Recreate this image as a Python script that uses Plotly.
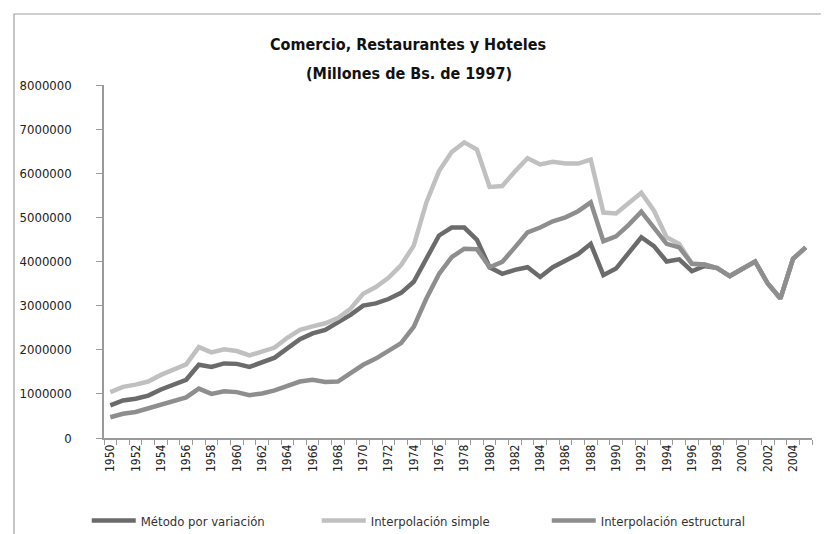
import plotly.graph_objects as go

years = list(range(1950, 2006))

metodo_variacion = [
    740000, 850000, 890000, 960000, 1100000, 1210000, 1320000, 1660000, 1610000, 1690000,
    1680000, 1610000, 1720000, 1820000, 2030000, 2240000, 2370000, 2450000, 2620000, 2790000,
    3000000, 3050000, 3150000, 3290000, 3540000, 4060000, 4590000, 4770000, 4770000, 4490000,
    3870000, 3720000, 3810000, 3870000, 3650000, 3870000, 4020000, 4170000, 4400000, 3690000,
    3840000, 4190000, 4550000, 4350000, 4000000, 4050000, 3780000, 3900000, 3850000, 3670000,
    3840000, 4000000, 3500000, 3160000, 4060000, 4320000,
]

interp_simple = [
    1040000, 1160000, 1210000, 1280000, 1430000, 1550000, 1670000, 2060000, 1940000, 2010000,
    1970000, 1870000, 1960000, 2050000, 2270000, 2450000, 2530000, 2600000, 2720000, 2930000,
    3270000, 3420000, 3630000, 3920000, 4360000, 5340000, 6050000, 6480000, 6700000, 6540000,
    5690000, 5710000, 6040000, 6340000, 6200000, 6260000, 6220000, 6220000, 6310000, 5110000,
    5090000, 5320000, 5560000, 5150000, 4550000, 4400000, 3950000, 3930000, 3850000, 3670000,
    3840000, 4000000, 3500000, 3160000, 4060000, 4320000,
]

interp_estructural = [
    470000, 550000, 590000, 670000, 770000, 830000, 920000, 1120000, 1000000, 1060000,
    1040000, 970000, 1010000, 1080000, 1170000, 1280000, 1320000, 1270000, 1280000, 1470000,
    1660000, 1800000, 1980000, 2150000, 2520000, 3160000, 3720000, 4100000, 4290000, 4280000,
    3870000, 3990000, 4320000, 4660000, 4770000, 4910000, 5000000, 5140000, 5340000, 4460000,
    4570000, 4830000, 5130000, 4770000, 4400000, 4320000, 3950000, 3930000, 3850000, 3670000,
    3840000, 4000000, 3500000, 3160000, 4060000, 4320000,
]

series_names = ["Método por variación", "Interpolación simple", "Interpolación estructural"]
series_colors = ["#6b6b6b", "#c0c0c0", "#8e8e8e"]

y_ticks = [0, 1000000, 2000000, 3000000, 4000000, 5000000, 6000000, 7000000, 8000000]
x_ticks = list(range(1950, 2005, 2))

title_line1 = "Comercio, Restaurantes y Hoteles"
title_line2 = "(Millones de Bs. de 1997)"

FONT = "DejaVu Sans Condensed, Liberation Sans Narrow, Arial Narrow, Roboto, sans-serif"

fig = go.Figure()
for name, vals, col in zip(series_names, [metodo_variacion, interp_simple, interp_estructural], series_colors):
    fig.add_trace(go.Scatter(
        x=years, y=vals, mode="lines", name=name,
        line=dict(color=col, width=4.5),
    ))

W, H = 829, 534
L, R, T, B = 96, 25, 77, 104
PW, PH = W - L - R, H - T - B

fig.update_layout(
    width=W, height=H,
    paper_bgcolor="white", plot_bgcolor="white",
    margin=dict(l=L, r=R, t=T, b=B, autoexpand=False),
    font=dict(family=FONT, size=12, color="#222"),
    title=dict(
        text="<b>" + title_line1 + "</b>",
        x=400 / W, xanchor="center", xref="container",
        y=1 - 36 / H, yanchor="middle", yref="container",
        font=dict(family=FONT, size=16, color="#111"),
    ),
    showlegend=True,
    legend=dict(
        orientation="h", xref="container", yref="container",
        x=0.095, xanchor="left", y=0.04, yanchor="middle",
        font=dict(family=FONT, size=13, color="#333"),
        entrywidth=171, entrywidthmode="pixels", itemwidth=44,
        bgcolor="rgba(0,0,0,0)",
    ),
)

fig.add_annotation(
    text="<b>" + title_line2 + "</b>", showarrow=False,
    xref="paper", yref="paper",
    x=(401 - L) / PW, y=(H - B - 65) / PH, xanchor="center", yanchor="middle",
    font=dict(family=FONT, size=16, color="#111"),
)

fig.update_xaxes(
    range=[1949.5, 2005.5],
    tickmode="array", tickvals=x_ticks, ticktext=[str(v) for v in x_ticks],
    tickangle=-90, ticks="", showgrid=False, zeroline=False,
    showline=True, linecolor="#9a9a9a", linewidth=1.5,
    tickfont=dict(family=FONT, size=12, color="#222"),
    minor=dict(tickmode="linear", tick0=1949.5, dtick=1, ticks="outside", ticklen=5,
               tickcolor="#9a9a9a", showgrid=False),
)
fig.update_yaxes(
    range=[0, 8000000],
    tickmode="array", tickvals=y_ticks, ticktext=[str(v) for v in y_ticks],
    ticks="outside", ticklen=6, tickcolor="#9a9a9a",
    showgrid=False, zeroline=False,
    showline=True, linecolor="#9a9a9a", linewidth=1.5,
    ticklabelstandoff=22,
    tickfont=dict(family=FONT, size=13, color="#222"),
)

# outer chart border
fig.add_shape(type="rect", xref="paper", yref="paper",
              x0=(6 - L) / PW, x1=(840 - L) / PW,
              y0=-(560 - T - PH) / PH, y1=(PH + T - 6) / PH,
              line=dict(color="#a0a0a0", width=1.2), fillcolor="rgba(0,0,0,0)", layer="below")

fig.write_html("out.html")
